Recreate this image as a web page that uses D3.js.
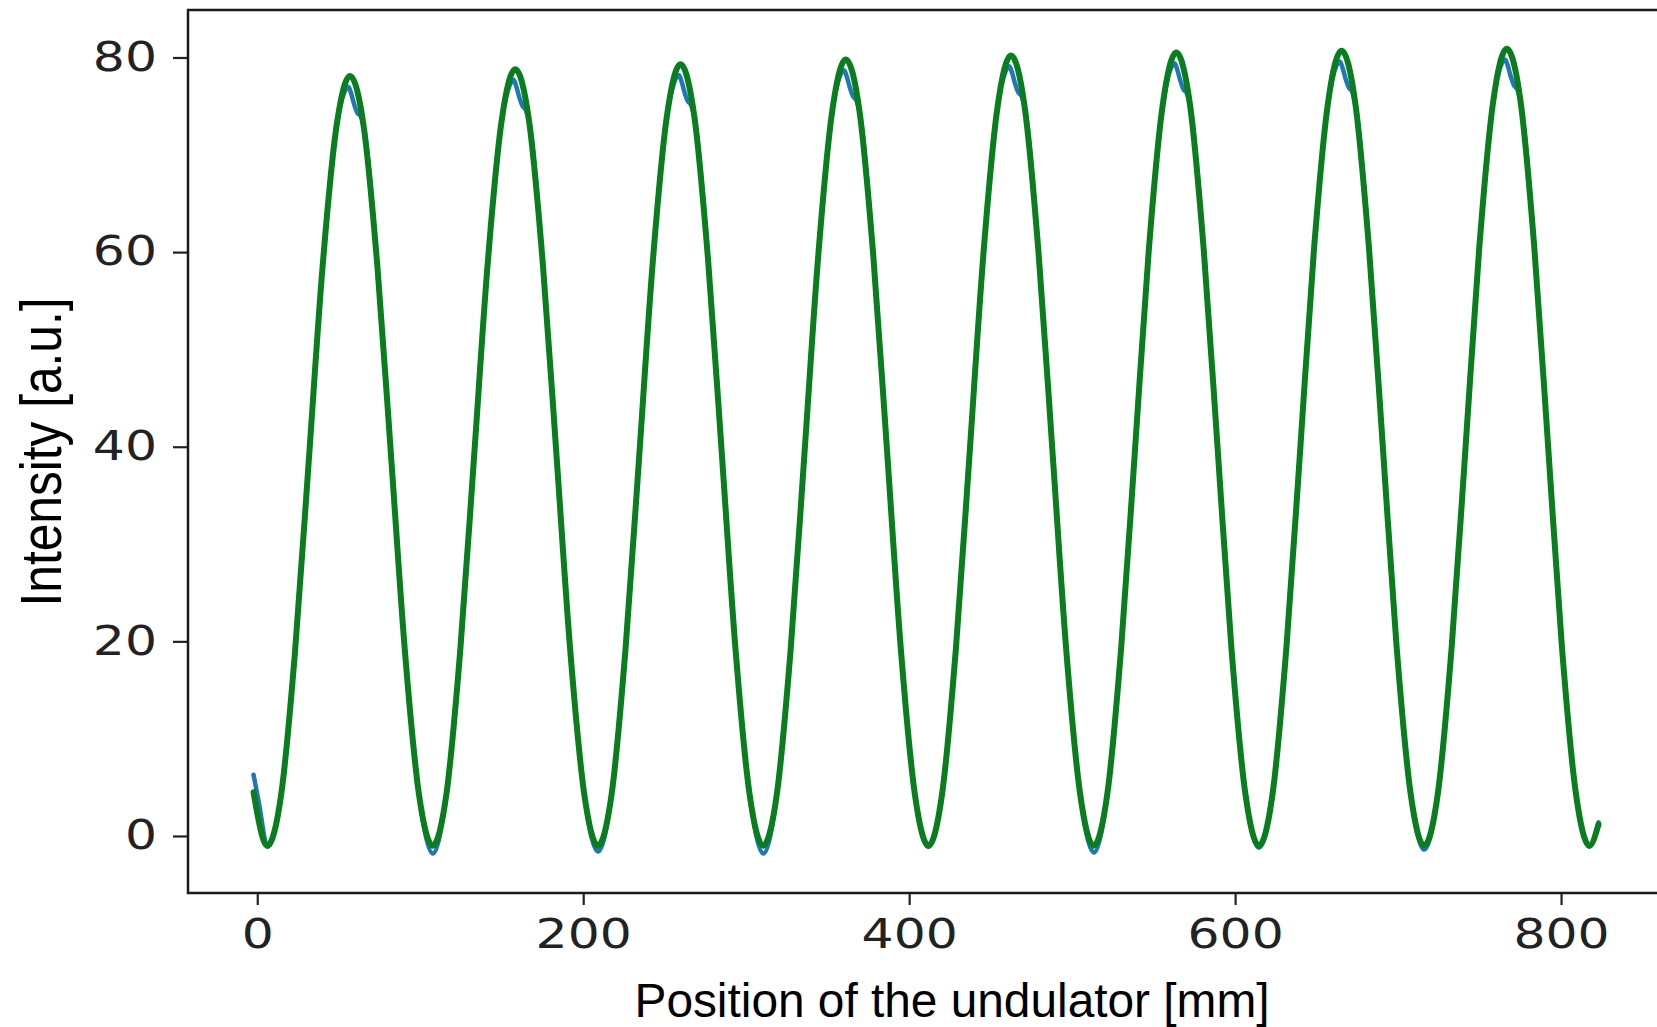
<!DOCTYPE html>
<html>
<head>
<meta charset="utf-8">
<script src="https://cdn.jsdelivr.net/npm/d3@7"></script>
<style>
  html, body { margin: 0; padding: 0; background: #fff; overflow: hidden; }
  svg { display: block; }
</style>
</head>
<body>
<svg id="chart" width="1657" height="1027"></svg>
<script>
// ---- data ----
const xTicks = [0, 200, 400, 600, 800];
const yTicks = [0, 20, 40, 60, 80];
const xLabel = "Position of the undulator [mm]";
const yLabel = "Intensity [a.u.]";

// fitted curve (green)
const fitX = [-2.3, 6.2, 14.7, 23.1, 31.6, 40.0, 48.5, 56.9, 65.4, 73.8, 82.3, 90.7, 99.2, 107.6,
  116.1, 124.5, 133.0, 141.4, 149.9, 158.3, 166.8, 175.2, 183.7, 192.1, 200.6, 209.0,
  217.5, 225.9, 234.4, 242.8, 251.3, 259.7, 268.2, 276.6, 285.1, 293.5, 302.0, 310.4,
  318.9, 327.3, 335.8, 344.2, 352.7, 361.1, 369.6, 378.0, 386.5, 394.9, 403.4, 411.8,
  420.3, 428.7, 437.2, 445.6, 454.1, 462.5, 471.0, 479.4, 487.9, 496.3, 504.8, 513.2,
  521.7, 530.1, 538.6, 547.0, 555.5, 563.9, 572.4, 580.8, 589.3, 597.7, 606.2, 614.6,
  623.1, 631.5, 640.0, 648.4, 656.9, 665.3, 673.8, 682.2, 690.7, 699.1, 707.6, 716.0,
  724.5, 732.9, 741.4, 749.8, 758.3, 766.7, 775.2, 783.6, 792.1, 800.5, 809.0, 817.4, 823.0];
const fitY = [4.5, -1.0,
  4.30, 18.78, 38.55, 58.33, 72.80, 78.1, 72.80, 58.33, 38.55, 18.78, 4.30, -1.0,
  4.35, 18.95, 38.90, 58.85, 73.45, 78.8, 73.45, 58.85, 38.90, 18.95, 4.35, -1.0,
  4.38, 19.08, 39.15, 59.23, 73.92, 79.3, 73.92, 59.23, 39.15, 19.08, 4.38, -1.0,
  4.41, 19.20, 39.40, 59.60, 74.39, 79.8, 74.39, 59.60, 39.40, 19.20, 4.41, -1.0,
  4.44, 19.30, 39.60, 59.90, 74.76, 80.2, 74.76, 59.90, 39.60, 19.30, 4.44, -1.0,
  4.46, 19.38, 39.75, 60.13, 75.04, 80.5, 75.04, 60.13, 39.75, 19.38, 4.46, -1.0,
  4.47, 19.43, 39.85, 60.28, 75.23, 80.7, 75.23, 60.28, 39.85, 19.43, 4.47, -1.0,
  4.49, 19.48, 39.95, 60.43, 75.41, 80.9, 75.41, 60.43, 39.95, 19.48, 4.49, -1.0, 1.2];

// measured data (blue), mostly hidden under the fit
const dataPts = [
  [-2.3,6.3],[1.0,3.4],[6.3,-1.1],[14.7,4.3],[23.1,18.8],[31.6,38.5],[40.0,58.3],[48.5,72.8],
  [53.4,76.4],[55.9,77.0],[57.6,76.3],[59.4,75.2],[61.4,74.3],[63.4,74.0],[65.4,72.8],
  [73.8,58.3],[82.3,38.5],[90.7,18.8],[99.2,4.3],[107.8,-1.8],
  [116.1,4.4],[124.5,18.9],[133.0,38.9],[141.4,58.8],[149.9,73.4],
  [154.8,77.1],[157.3,77.7],[159.0,77.0],[160.8,75.9],[162.8,75.0],[164.8,74.6],[166.8,73.4],
  [175.2,58.8],[183.7,38.9],[192.1,18.9],[200.6,4.3],[209.1,-1.6],
  [217.5,4.4],[225.9,19.1],[234.4,39.1],[242.8,59.2],[251.3,73.9],
  [256.2,77.6],[258.7,78.2],[260.4,77.5],[262.2,76.4],[264.2,75.5],[266.2,75.1],[268.2,73.9],
  [276.6,59.2],[285.1,39.1],[293.5,19.1],[302.0,4.4],[310.6,-1.8],
  [318.9,4.4],[327.3,19.2],[335.8,39.4],[344.2,59.6],[352.7,74.4],
  [357.6,78.1],[360.1,78.7],[361.8,78.0],[363.6,76.9],[365.6,76.0],[367.6,75.6],[369.6,74.4],
  [378.0,59.6],[386.5,39.4],[394.9,19.2],[403.4,4.4],[411.8,-1.1],
  [420.3,4.4],[428.7,19.3],[437.2,39.6],[445.6,59.9],[454.1,74.8],
  [459.0,78.5],[461.5,79.1],[463.2,78.4],[465.0,77.3],[467.0,76.4],[469.0,76.0],[471.0,74.8],
  [479.4,59.9],[487.9,39.6],[496.3,19.3],[504.8,4.4],[513.4,-1.7],
  [521.7,4.5],[530.1,19.4],[538.6,39.7],[547.0,60.1],[555.5,75.0],
  [560.4,78.8],[562.9,79.4],[564.6,78.7],[566.4,77.6],[568.4,76.7],[570.4,76.3],[572.4,75.0],
  [580.8,60.1],[589.3,39.7],[597.7,19.4],[606.2,4.5],[614.6,-1.2],
  [623.1,4.5],[631.5,19.4],[640.0,39.8],[648.4,60.3],[656.9,75.2],
  [661.8,79.0],[664.3,79.6],[666.0,78.9],[667.8,77.8],[669.8,76.9],[671.8,76.5],[673.8,75.2],
  [682.2,60.3],[690.7,39.8],[699.1,19.4],[707.6,4.5],[716.0,-1.4],
  [724.5,4.5],[732.9,19.5],[741.4,39.9],[749.8,60.4],[758.3,75.4],
  [763.2,79.2],[765.7,79.8],[767.4,79.1],[769.2,78.0],[771.2,77.1],[773.2,76.7],[775.2,75.4],
  [783.6,60.4],[792.1,39.9],[800.5,19.5],[809.0,4.5],[817.4,-1.1],[823.0,1.4]
];

// ---- drawing ----
const svg = d3.select("#chart");
const L = 188, R = 1667, T = 10, B = 893;

const x = d3.scaleLinear().domain([-42.5, 865]).range([L, R]);
const y = d3.scaleLinear().domain([-5.86, 84.88]).range([B, T]);

const clipId = "plotclip";
svg.append("defs").append("clipPath").attr("id", clipId)
  .append("rect").attr("x", L).attr("y", T).attr("width", R - L).attr("height", B - T);

const plot = svg.append("g").attr("clip-path", `url(#${clipId})`);

const line = d3.line().x(d => x(d[0])).y(d => y(d[1])).curve(d3.curveMonotoneX);

plot.append("path")
  .datum(dataPts)
  .attr("d", line)
  .attr("fill", "none")
  .attr("stroke", "#1f77b4")
  .attr("stroke-width", 4.5)
  .attr("stroke-linejoin", "round")
  .attr("stroke-linecap", "round");

const fitPts = fitX.map((v, i) => [v, fitY[i]]);
plot.append("path")
  .datum(fitPts)
  .attr("d", line)
  .attr("fill", "none")
  .attr("stroke", "#0a7d1e")
  .attr("stroke-width", 6)
  .attr("stroke-linejoin", "round")
  .attr("stroke-linecap", "round");

// axes
const tickFont = "'DejaVu Sans', sans-serif";
const xAxis = svg.append("g").attr("transform", `translate(0,${B})`)
  .call(d3.axisBottom(x).tickValues(xTicks).tickSize(12).tickPadding(15).tickFormat(d3.format("d")));
const yAxis = svg.append("g").attr("transform", `translate(${L},0)`)
  .call(d3.axisLeft(y).tickValues(yTicks).tickSize(15).tickPadding(16).tickFormat(d3.format("d")));

[xAxis, yAxis].forEach(g => {
  g.select(".domain").remove();
  g.selectAll(".tick line").attr("stroke", "#222").attr("stroke-width", 2.2);
  g.selectAll(".tick text")
    .attr("fill", "#222")
    .style("font-family", tickFont)
    .style("font-size", "40px")
    .each(function () {
      const w = this.getComputedTextLength();
      d3.select(this).attr("textLength", w * 1.26).attr("lengthAdjust", "spacingAndGlyphs");
    });
});

// frame
svg.append("rect")
  .attr("x", L).attr("y", T).attr("width", R - L).attr("height", B - T)
  .attr("fill", "none").attr("stroke", "#1a1a1a").attr("stroke-width", 2.5);

// axis labels
svg.append("text")
  .attr("x", 952).attr("y", 1017)
  .attr("text-anchor", "middle")
  .style("font-family", "'Liberation Sans', Arial, sans-serif")
  .style("font-size", "48px")
  .attr("textLength", 635).attr("lengthAdjust", "spacingAndGlyphs")
  .attr("fill", "#000")
  .text(xLabel);

svg.append("g")
  .attr("transform", "translate(61,452) scale(1.18,1) rotate(-90)")
  .append("text")
  .attr("x", 0).attr("y", 0)
  .attr("text-anchor", "middle")
  .style("font-family", "'Liberation Sans', Arial, sans-serif")
  .style("font-size", "48px")
  .attr("textLength", 309).attr("lengthAdjust", "spacingAndGlyphs")
  .attr("fill", "#000")
  .text(yLabel);
</script>
</body>
</html>
